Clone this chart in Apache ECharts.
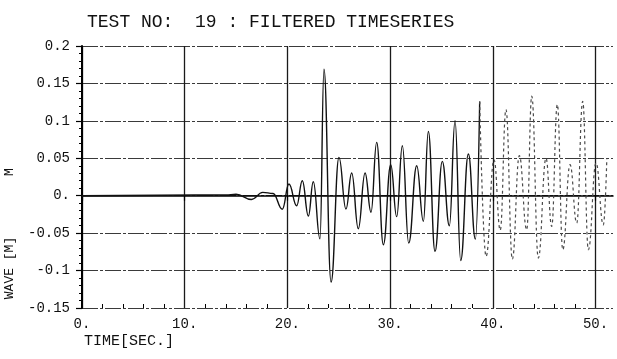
<!DOCTYPE html>
<html>
<head>
<meta charset="utf-8">
<script src="https://cdn.jsdelivr.net/npm/echarts@6/dist/echarts.min.js"></script>
<style>
html,body{margin:0;padding:0;background:#fff;}
#chart{width:617px;height:359px;}
</style>
</head>
<body>
<div id="chart"></div>
<script>
// ---- data ----
const titleText = 'TEST NO:  19 : FILTERED TIMESERIES';
const xName = 'TIME[SEC.]';
const yName = 'WAVE [M]';
const yUnitMark = 'M';

const xMajorTicks = [0, 10, 20, 30, 40, 50];
const xMinorTicks = [2, 4, 6, 8, 12, 14, 16, 18, 22, 24, 26, 28, 32, 34, 36, 38, 42, 44, 46, 48];
const yTickLabels = {'0.2': '0.2', '0.15': '0.15', '0.1': '0.1', '0.05': '0.05', '0': '0.', '-0.05': '-0.05', '-0.1': '-0.1', '-0.15': '-0.15'};

// solid (well inked) part of the trace: time [s], wave [m]
const timeA = [0, 14, 15, 16.5, 17.6, 18.6, 19.5, 20.15, 20.9, 21.45, 22.04, 22.52, 23.17, 23.56, 24.25, 25.02, 25.7, 26.26, 26.9, 27.56, 28.14, 28.69, 29.34, 30.06, 30.64, 31.19, 31.81, 32.59, 33.24, 33.72, 34.37, 35.08, 35.77, 36.32, 36.87, 37.62, 38.3, 38.72];
const waveA = [0, 0.001, 0.002, -0.005, 0.0045, 0.003, -0.018, 0.0156, -0.0134, 0.02, -0.027, 0.0187, -0.0575, 0.169, -0.1154, 0.0512, -0.0178, 0.0303, -0.0441, 0.0303, -0.022, 0.0713, -0.0655, 0.0414, -0.028, 0.0668, -0.0633, 0.0401, -0.0343, 0.086, -0.0744, 0.0459, -0.0401, 0.1003, -0.0865, 0.0557, -0.058, 0.126];

// faded (broken ink) part of the trace
const timeB = [38.72, 39.34, 40.12, 40.72, 41.28, 41.9, 42.58, 43.3, 43.79, 44.43, 45.18, 45.73, 46.28, 46.81, 47.52, 48.17, 48.75, 49.3, 50.05, 50.76, 51.1];
const waveB = [0.126, -0.081, 0.048, -0.046, 0.115, -0.0847, 0.0535, -0.0455, 0.133, -0.0833, 0.05, -0.041, 0.1217, -0.0722, 0.0414, -0.0365, 0.126, -0.072, 0.0437, -0.039, 0.05];

const xMin = 0, xMax = 51.7;
const yMin = -0.15, yMax = 0.2, yStep = 0.05;

// ---- chart ----
const FONT = 'Liberation Mono';
const chart = echarts.init(document.getElementById('chart'), null, {renderer: 'canvas'});

const option = {
  animation: false,
  backgroundColor: '#ffffff',
  title: {
    text: titleText,
    left: 82,
    top: 8,
    textStyle: {fontFamily: FONT, fontSize: 18, fontWeight: 'normal', color: '#111'}
  },
  grid: {left: 82, right: 4, top: 46, bottom: 51, containLabel: false},
  xAxis: [
    {
      type: 'value', min: xMin, max: xMax,
      axisLine: {show: true, lineStyle: {color: '#000', width: 1.5}},
      axisTick: {show: true, customValues: xMajorTicks, length: 5, inside: false, lineStyle: {color: '#000', width: 1.2}},
      axisLabel: {show: true, customValues: xMajorTicks, margin: 9, formatter: v => v + '.', fontFamily: FONT, fontSize: 14, color: '#111'},
      splitLine: {show: true, lineStyle: {color: '#1a1a1a', width: 1.3, type: 'solid'}}
    },
    {
      type: 'value', min: xMin, max: xMax, position: 'bottom',
      axisLine: {show: false},
      axisTick: {show: true, customValues: xMinorTicks, length: 4, inside: true, lineStyle: {color: '#000', width: 1}},
      axisLabel: {show: false},
      splitLine: {show: false}
    }
  ],
  yAxis: {
    type: 'value', min: yMin, max: yMax, interval: yStep,
    axisLine: {show: true, onZero: false, lineStyle: {color: '#000', width: 2}},
    axisTick: {show: true, length: 6, lineStyle: {color: '#000', width: 1.2}},
    minorTick: {show: true, splitNumber: 5, length: 3, lineStyle: {color: '#000', width: 1}},
    axisLabel: {
      margin: 12, fontFamily: FONT, fontSize: 14, color: '#111',
      formatter: v => {
        const k = String(Math.round(v * 100) / 100);
        return yTickLabels[k] !== undefined ? yTickLabels[k] : k;
      }
    },
    splitLine: {show: true, lineStyle: {color: '#3a3a3a', width: 1, type: [16, 2, 3, 2]}}
  },
  graphic: [
    {type: 'text', x: 84, y: 341, style: {text: xName, font: '15px "Liberation Mono"', fill: '#111', textAlign: 'left', textVerticalAlign: 'middle'}},
    {type: 'text', x: 10, y: 268, rotation: Math.PI / 2, style: {text: yName, font: '13px "Liberation Mono"', fill: '#111', textAlign: 'center', textVerticalAlign: 'middle'}},
    {type: 'text', x: 10, y: 172, rotation: Math.PI / 2, style: {text: yUnitMark, font: '13px "Liberation Mono"', fill: '#111', textAlign: 'center', textVerticalAlign: 'middle'}}
  ],
  series: [
    {
      type: 'line', xAxisIndex: 0, showSymbol: false, smooth: 0.45, smoothMonotone: 'x',
      lineStyle: {color: '#111', width: 1.4},
      data: timeA.map((t, i) => [t, waveA[i]])
    },
    {
      type: 'line', xAxisIndex: 0, showSymbol: false, smooth: 0.45, smoothMonotone: 'x',
      lineStyle: {color: '#4a4a4a', width: 1.2, type: [3, 3]},
      data: timeB.map((t, i) => [t, waveB[i]])
    }
  ]
};
chart.setOption(option);
</script>
</body>
</html>
